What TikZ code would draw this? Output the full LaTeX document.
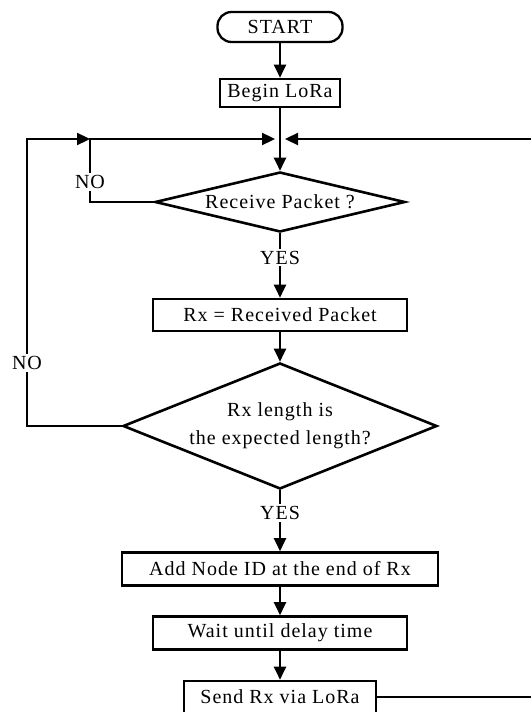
\documentclass[tikz,border=0pt]{standalone}
\usepackage{fontspec}
\setmainfont{Liberation Serif}[LetterSpace=5]
\usetikzlibrary{positioning,shapes.geometric,arrows.meta}

\begin{document}
\begin{tikzpicture}[x=1pt,y=-1pt,node distance=64pt,on grid,
    >={Triangle[length=13pt,width=12pt]},line width=2.3pt,
    font=\fontsize{20}{28}\selectfont,
    term/.style={draw,rounded corners=14pt,minimum width=125pt,minimum height=30pt},
    proc/.style={draw,line width=2.6pt,minimum height=32pt,inner sep=0pt},
    decide/.style={draw,diamond,line width=2.6pt,inner sep=0pt,align=center},
    lbl/.style={fill=white,inner sep=2pt}]
  \useasboundingbox (0,0) rectangle (530,712);
  \node[term] (start) at (280,27) {START};
  \node[proc,minimum width=120pt,minimum height=28pt] (begin) [below=66pt of start] {Begin LoRa};
  \node[decide,aspect=4.17,minimum width=250pt,minimum height=60pt] (recv) [below=109pt of begin] {Receive Packet ?};
  \node[proc,minimum width=254pt] (rx) [below=113pt of recv] {Rx = Received Packet};
  \node[decide,aspect=2.49,minimum width=314pt,minimum height=126pt] (len) [below=111pt of rx] {Rx length is\\the expected length?};
  \node[proc,minimum width=316pt,minimum height=33pt] (addid) [below=143pt of len] {Add Node ID at the end of Rx};
  \node[proc,minimum width=254pt,minimum height=33pt] (wait) [below=of addid] {Wait until delay time};
  \node[proc,minimum width=192pt] (send) [below=of wait] {Send Rx via LoRa};

  \coordinate (jn) at (280,139);
  \coordinate (lp) at (90,139);
  \coordinate (farleft) at (27,139);
  \coordinate (farright) at (545,139);

  \draw[->] (start) -- (begin);
  \draw[->] (begin) -- (recv);
  \draw[->] (recv) -- node[lbl,pos=0.38] (yes1) {YES} (rx);
  \draw[->] (rx) -- (len);
  \draw[->] (len) -- node[lbl,pos=0.37] (yes2) {YES} (addid);
  \draw[->] (addid) -- (wait);
  \draw[->] (wait) -- (send);

  % NO branches back to the loop start
  \draw[->,shorten >=5pt] (recv.west) -| (lp) -- (jn);
  \draw[->] (len.west) -| (farleft) -- (lp);
  \draw[->,shorten >=5pt] (send.east) -| (farright) -- (jn);
  \node[lbl] (no1) at (90,182) {NO};
  \node[lbl] (no2) at (27,363) {NO};
\end{tikzpicture}
\end{document}
